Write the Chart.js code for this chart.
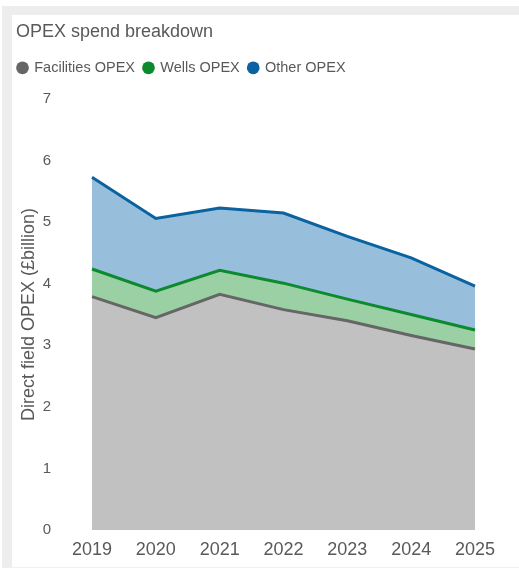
<!DOCTYPE html>
<html lang="en">

<head>
    <meta charset="UTF-8">
    <script src="https://cdn.jsdelivr.net/npm/chart.js"></script>
    <title>OPEX spend breakdown</title>
    <style>
        body {
            margin: 0;
            background: #fff;
        }

        .frame {
            position: absolute;
            left: 2px;
            top: 6px;
            width: 517px;
            height: 562px;
            box-sizing: border-box;
            border-top: 9px solid #ededed;
            border-left: 10px solid #ededed;
            border-bottom: 1px solid #f0f0f0;
        }

        #opexChart {
            position: absolute;
            left: 0;
            top: 0;
        }
    </style>
</head>

<body>
    <div class="frame"></div>
    <canvas id="opexChart" width="519" height="570"></canvas>
    <script>
        const anos = ['2019', '2020', '2021', '2022', '2023', '2024', '2025'];
        const facilities = [3.79, 3.45, 3.83, 3.58, 3.40, 3.16, 2.94];
        const wells = [0.45, 0.43, 0.39, 0.43, 0.35, 0.34, 0.31];
        const other = [1.49, 1.18, 1.01, 1.14, 1.02, 0.92, 0.71];

        const cinza = '#595959';
        Chart.defaults.font.family = '"Liberation Sans", Arial, sans-serif';
        Chart.defaults.color = cinza;

        // espaco extra abaixo da legenda e legenda um pouco mais a esquerda
        const ajusteLegenda = {
            id: 'ajusteLegenda',
            beforeInit(chart) {
                const fitOriginal = chart.legend.fit;
                chart.legend.fit = function () {
                    fitOriginal.bind(chart.legend)();
                    this.height += 14;
                };
            },
            afterLayout(chart) {
                chart.legend.left -= 7;
            }
        };

        const ctx = document.getElementById('opexChart').getContext('2d');
        new Chart(ctx, {
            type: 'line',
            data: {
                labels: anos,
                datasets: [{
                    label: 'Facilities OPEX',
                    data: facilities,
                    borderColor: '#666666',
                    backgroundColor: '#c1c1c1',
                    fill: 'origin',
                    borderWidth: 3,
                    pointRadius: 0,
                    tension: 0
                }, {
                    label: 'Wells OPEX',
                    data: wells,
                    borderColor: '#0b8a2e',
                    backgroundColor: '#9bcfa4',
                    fill: '-1',
                    borderWidth: 3,
                    pointRadius: 0,
                    tension: 0
                }, {
                    label: 'Other OPEX',
                    data: other,
                    borderColor: '#0a62a0',
                    backgroundColor: '#97bfdb',
                    fill: '-1',
                    borderWidth: 3,
                    pointRadius: 0,
                    tension: 0
                }]
            },
            plugins: [ajusteLegenda],
            options: {
                responsive: false,
                animation: false,
                layout: {
                    padding: { left: 16, right: 44, top: 21, bottom: 0 }
                },
                plugins: {
                    tooltip: { enabled: false },
                    title: {
                        display: true,
                        text: 'OPEX spend breakdown',
                        align: 'start',
                        color: cinza,
                        font: { size: 18, weight: 'normal' },
                        padding: { top: 0, bottom: 9 }
                    },
                    legend: {
                        display: true,
                        align: 'start',
                        labels: {
                            usePointStyle: true,
                            pointStyle: 'circle',
                            boxWidth: 9,
                            boxHeight: 9,
                            padding: 9,
                            color: cinza,
                            font: { size: 14.5 },
                            generateLabels: function (chart) {
                                const itens = Chart.defaults.plugins.legend.labels.generateLabels(chart);
                                itens.forEach(function (it) {
                                    it.fillStyle = it.strokeStyle;
                                    it.lineWidth = 0;
                                });
                                return itens;
                            }
                        }
                    }
                },
                scales: {
                    x: {
                        stacked: true,
                        offset: false,
                        grid: { display: false, drawTicks: false },
                        border: { display: false },
                        ticks: {
                            padding: 9,
                            color: cinza,
                            font: { size: 18 },
                            maxRotation: 0
                        },
                        afterFit: function (scale) {
                            scale.height = 40;
                        }
                    },
                    y: {
                        stacked: true,
                        min: 0,
                        max: 7,
                        grid: { display: false, drawTicks: false },
                        border: { display: false },
                        ticks: {
                            stepSize: 1,
                            padding: 41,
                            color: cinza,
                            font: { size: 15 }
                        },
                        title: {
                            display: true,
                            text: 'Direct field OPEX (£billion)',
                            color: cinza,
                            font: { size: 18 },
                            padding: { top: 2, bottom: 0 }
                        },
                        afterFit: function (scale) {
                            scale.width = 76;
                            // o padding dos ticks nao deve empurrar a area do grafico
                            scale.paddingTop = 10;
                            scale.paddingBottom = 10;
                        }
                    }
                }
            }
        });
    </script>
</body>

</html>
